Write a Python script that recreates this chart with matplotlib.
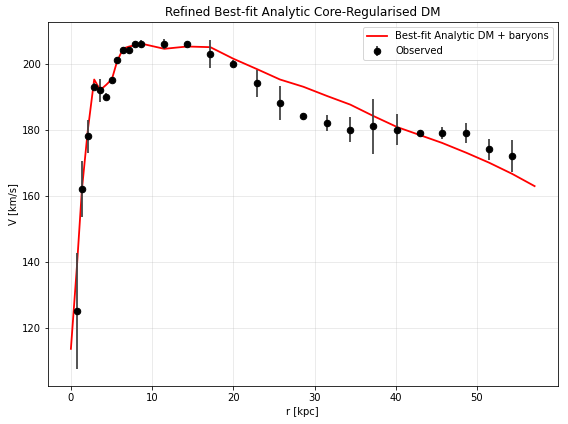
import numpy as np
import matplotlib.pyplot as plt

# observed rotation curve
r_obs = [0.74, 1.36, 2.09, 2.87, 3.61, 4.35, 5.05, 5.7, 6.44, 7.18, 7.92, 8.63,
         11.5, 14.3, 17.17, 20.0, 22.96, 25.75, 28.63, 31.55, 34.4, 37.2,
         40.17, 43.05, 45.7, 48.7, 51.5, 54.35]
v_obs = [125, 162, 178, 193, 192, 190, 195, 201, 204, 204, 206, 206,
         206, 206, 203, 200, 194, 188, 184, 182, 180, 181,
         180, 179, 179, 179, 174, 172]
v_err = [17.6, 8.5, 5.0, 1.0, 3.5, 1.0, 1.0, 1.0, 1.0, 1.0, 1.0, 1.3,
         1.6, 1.0, 4.2, 1.0, 4.1, 5.2, 1.0, 2.3, 3.7, 8.4,
         4.6, 1.0, 1.8, 3.0, 3.3, 4.8]

# best-fit model curve
r_fit = [0.0, 0.74, 1.36, 2.09, 2.87, 3.61, 4.35, 5.05, 5.7, 6.44, 7.18, 7.92,
         8.63, 11.5, 14.3, 17.17, 20.0, 22.96, 25.75, 28.63, 31.55, 34.4,
         37.2, 40.17, 43.05, 45.7, 48.7, 51.5, 54.35, 57.1]
v_fit = [113.6, 138.5, 162.0, 180.0, 195.2, 192.0, 193.6, 195.3, 200.8, 204.6,
         205.2, 205.6, 206.1, 204.5, 205.2, 205.0, 201.5, 198.3, 195.2, 193.0,
         190.2, 187.6, 184.2, 180.8, 178.3, 176.0, 173.0, 170.0, 166.6, 162.9]


def main():
    fig, ax = plt.subplots(figsize=(568 / 72, 424 / 72), dpi=72)
    ax.plot(r_fit, v_fit, color="red", lw=1.8,
            label="Best-fit Analytic DM + baryons")
    ax.errorbar(r_obs, v_obs, yerr=v_err, fmt="o", color="black",
                ecolor="#444444", elinewidth=1.8, markersize=6.5,
                label="Observed")
    ax.set_xlabel("r [kpc]")
    ax.set_ylabel("V [km/s]")
    ax.set_title("Refined Best-fit Analytic Core-Regularised DM")
    ax.grid(True, alpha=0.3)
    ax.legend(loc="upper right")
    fig.subplots_adjust(left=0.084, right=0.982, top=0.948, bottom=0.09)
    fig.savefig("out.png", dpi=72)


if __name__ == "__main__":
    main()
